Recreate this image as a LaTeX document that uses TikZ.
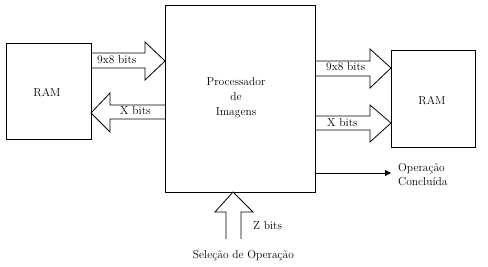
\documentclass[tikz,border=0pt]{standalone}
\usepackage{fontspec}
\usetikzlibrary{arrows.meta}
\begin{document}
\begin{tikzpicture}[x=1pt,y=-1pt,
  box/.style={draw,line width=0.8pt},
  blk/.style={draw,line width=0.8pt,line join=miter},
  lbl/.style={font=\rmfamily\fontsize{11.5}{13}\selectfont,inner sep=0pt},
]
\useasboundingbox (0,0) rectangle (488,267);
% boxes
\draw[box] (6,43) rectangle (91,139);
\draw[box] (165,5) rectangle (315,192);
\draw[box] (391,50) rectangle (475,147);
\node[lbl] (ramL) at (47,93) {RAM};
\node[lbl] (ramR) at (432,101) {RAM};
\node[lbl,align=center] (proc) at (236,98) {Processador\\[2pt]de\\[2pt]Imagens};
% block arrows
\draw[blk] (91,53)--(145,53)--(145,42)--(165,61)--(145,80)--(145,68)--(91,68);
\draw[blk] (165,105)--(110,105)--(110,93)--(91,113)--(110,132)--(110,119)--(165,119);
\draw[blk] (315,61)--(370,61)--(370,49)--(391,68)--(370,88)--(370,76)--(315,76);
\draw[blk] (315,116)--(370,116)--(370,105)--(391,123)--(370,142)--(370,130)--(315,130);
\draw[blk] (226,239)--(226,212)--(215,212)--(233,192)--(253,212)--(241,212)--(241,239);
% labels
\node[lbl,anchor=west] (a1) at (97,60) {9x8 bits};
\node[lbl,anchor=west] (a2) at (120,111) {X bits};
\node[lbl,anchor=west] (a3) at (326,67) {9x8 bits};
\node[lbl,anchor=west] (a4) at (327,123) {X bits};
\node[lbl,anchor=west] (z) at (253,226) {Z bits};
\node[lbl] (sel) at (243.5,256) {Seleção de Operação};
% output
\coordinate (o1) at (315,173);
\coordinate (o2) at (391,173);
\draw[line width=0.8pt,-{Triangle[length=6pt,width=6pt]}] (o1) -- (o2);
\node[lbl,anchor=west,align=left] (done) at (398,174.5) {Operação\\[1pt]Concluída};
\end{tikzpicture}
\end{document}
